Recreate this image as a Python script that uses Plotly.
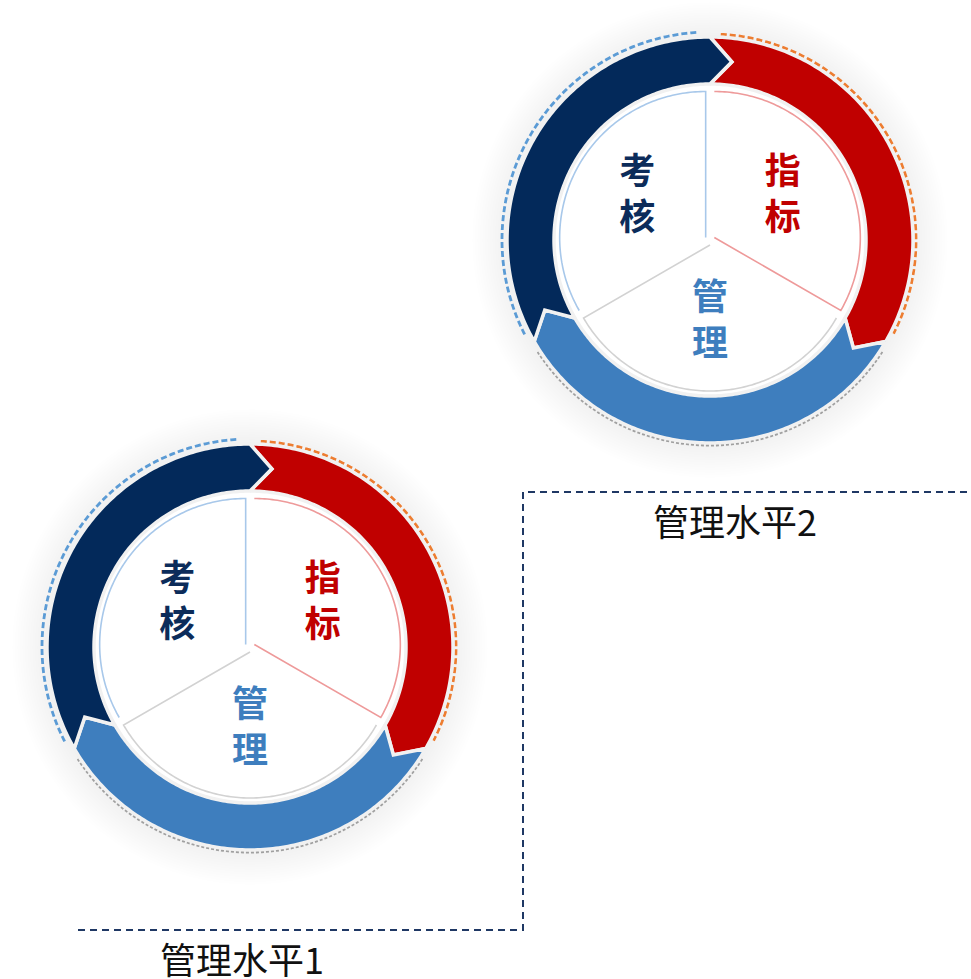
import numpy as np
import plotly.graph_objects as go

# Three stages of the management cycle, laid out clockwise from 12 o'clock
stages = ["指标", "管理", "考核"]
stage_share = [1, 1, 1]
levels = ["管理水平1", "管理水平2"]

ring_fill = ["#C00000", "#3E7EBE", "#03295A"]
label_color = ["#C00000", "#3E7EBE", "#0C2C5A"]
sector_edge = ["#EE9A9A", "#D2D2D2", "#A8C8EA"]
trail_color = ["#ED7D31", "#A0A0A0", "#5B9BD5"]
trail_dash = ["6px,3px", "3px,2px", "6px,3px"]
trail_width = [2.8, 3.0, 2.8]
trail_radius = [206, 205, 208]

W, H = 971, 979
SPAN = 240            # radial range of each polar subplot (px)
R_OUT, R_IN = 203, 156
R_PIE, EXPLODE = 146, 5
TIP = 7               # chevron depth in degrees
TEXT_R = 84
centers = [(250, 647), (710, 240)]   # subplot centres (px from top-left)

total = sum(stage_share)
ends = np.cumsum(stage_share) / total * 360.0
starts = ends - np.array(stage_share) / total * 360.0
mids = (starts + ends) / 2


def arc(r, t0, t1, n=140):
    t = np.linspace(t0, t1, n)
    return np.full(n, float(r)), t


def shifted(r, t, phi, d):
    r = np.asarray(r, float)
    t = np.radians(np.asarray(t, float))
    p = np.radians(phi)
    x = r * np.sin(t) + d * np.sin(p)
    y = r * np.cos(t) + d * np.cos(p)
    return np.hypot(x, y), np.degrees(np.arctan2(x, y)) % 360


fig = go.Figure()


def add_cycle(sub):
    common = dict(subplot=sub, hoverinfo="skip", showlegend=False)

    # soft halo around the ring
    for k in range(1, 15):
        r, t = arc(R_OUT + 2.5 * k, 0, 360, 180)
        fig.add_trace(go.Scatterpolar(r=r, theta=t, mode="lines", fill="toself",
                                      fillcolor="rgba(0,0,0,0.0036)",
                                      line=dict(width=0, color="rgba(0,0,0,0)"), **common))

    # white core under the pie
    r, t = arc(R_IN + 1, 0, 360, 180)
    fig.add_trace(go.Scatterpolar(r=r, theta=t, mode="lines", fill="toself",
                                  fillcolor="white", line=dict(width=0, color="white"), **common))

    # dashed trails outside the ring
    for i in range(len(stages)):
        r, t = arc(trail_radius[i], starts[i] + 3, ends[i] - 3, 160)
        fig.add_trace(go.Scatterpolar(r=r, theta=t, mode="lines",
                                      line=dict(color=trail_color[i], width=trail_width[i],
                                                dash=trail_dash[i]), **common))

    # chevron ring segments
    r_mid = (R_OUT + R_IN) / 2
    for i in range(len(stages)):
        ro, to = arc(R_OUT, starts[i], ends[i])
        ri, ti = arc(R_IN, ends[i], starts[i])
        rr = np.concatenate([ro, [r_mid], ri, [r_mid], ro[:1]])
        tt = np.concatenate([to, [ends[i] + TIP], ti, [starts[i] + TIP], to[:1]])
        fig.add_trace(go.Scatterpolar(r=rr, theta=tt, mode="lines", fill="toself",
                                      fillcolor=ring_fill[i],
                                      line=dict(color="#F1F1F1", width=3.5), **common))

    # exploded pie sectors
    for i in range(len(stages)):
        ra, ta = arc(R_PIE, starts[i], ends[i], 120)
        rs, ts = shifted(np.concatenate([[0], ra, [0]]),
                         np.concatenate([[mids[i]], ta, [mids[i]]]), mids[i], EXPLODE)
        fig.add_trace(go.Scatterpolar(r=rs, theta=ts, mode="lines", fill="toself",
                                      fillcolor="white", line=dict(width=0, color="white"),
                                      **common))
        rb, tb = shifted(np.concatenate([ra, [0]]),
                         np.concatenate([ta, [ends[i]]]), mids[i], EXPLODE)
        fig.add_trace(go.Scatterpolar(r=rb, theta=tb, mode="lines",
                                      line=dict(color=sector_edge[i], width=1.6), **common))

    # stage names
    for i, name in enumerate(stages):
        fig.add_trace(go.Scatterpolar(
            r=[TEXT_R], theta=[mids[i]], mode="text",
            text=["<b>" + "<br>".join(name) + "</b>"],
            textposition="middle center",
            textfont=dict(size=36, color=label_color[i], family="Noto Sans CJK SC"),
            **common))


subplots = ["polar", "polar2"]
for sub in subplots:
    add_cycle(sub)

polar_layout = {}
for sub, (cx, cy) in zip(subplots, centers):
    polar_layout[sub] = dict(
        domain=dict(x=[(cx - SPAN) / W, (cx + SPAN) / W],
                    y=[(H - cy - SPAN) / H, (H - cy + SPAN) / H]),
        bgcolor="rgba(0,0,0,0)",
        hole=0,
        radialaxis=dict(range=[0, SPAN], visible=False, showgrid=False),
        angularaxis=dict(rotation=90, direction="clockwise", visible=False, showgrid=False),
    )


# dashed connector between the two levels (paper units)
def px(x, y):
    return f"{x / W:.5f},{(H - y) / H:.5f}"


connector = f"M {px(78, 930)} L {px(523, 930)} L {px(523, 492)} L {px(971, 492)}"

fig.update_layout(
    width=W, height=H,
    margin=dict(l=0, r=0, t=0, b=0),
    paper_bgcolor="white", plot_bgcolor="white",
    showlegend=False,
    shapes=[dict(type="path", xref="paper", yref="paper", path=connector,
                 line=dict(color="#1F3864", width=2, dash="7px,5px"))],
    annotations=[
        dict(text=levels[0], xref="paper", yref="paper", x=242 / W, y=(H - 958) / H,
             xanchor="center", yanchor="middle", showarrow=False,
             font=dict(size=36, color="#111111", family="Noto Sans CJK SC")),
        dict(text=levels[1], xref="paper", yref="paper", x=735 / W, y=(H - 520) / H,
             xanchor="center", yanchor="middle", showarrow=False,
             font=dict(size=36, color="#111111", family="Noto Sans CJK SC")),
    ],
    **polar_layout,
)

fig.write_html("out.html")
